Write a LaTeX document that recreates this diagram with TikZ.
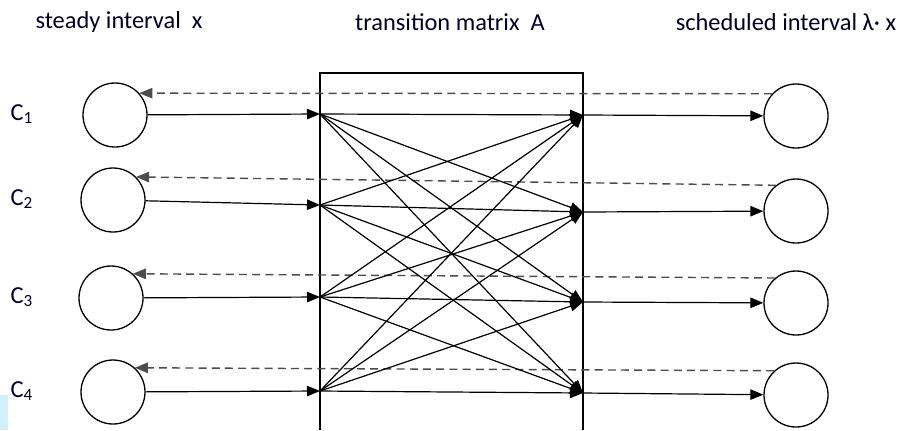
\documentclass[tikz,border=0pt]{standalone}
\usepackage{fontspec}
\setmainfont{Carlito}
\usetikzlibrary{arrows.meta,positioning,calc}

\begin{document}
\begin{tikzpicture}[
        x=0.5pt, y=-0.5pt,
        state/.style={circle, draw, line width=0.65pt, minimum size=32pt, inner sep=0pt},
        arrow/.style={-{Triangle[length=6.5pt,width=5.2pt]}, line width=0.6pt},
        back/.style={-{Triangle[length=6.5pt,width=5.2pt]}, line width=0.7pt, dash pattern=on 4pt off 2.6pt, draw=black!70},
        title/.style={font=\fontsize{12.2}{14}\selectfont, text=black!85!blue},
        tag/.style={font=\fontsize{12.2}{14}\selectfont, text=black!85!blue}
    ]
        \useasboundingbox (0,0) rectangle (898,430);
        % stray patch at the lower left
        \fill[cyan!18] (0,395) rectangle (8,430);

        % titles
        \node[title] (tx) at (119,22) {steady interval\ \ x};
        \node[title] (ta) at (450,22) {transition matrix\ \ A};
        \node[title] (tl) at (786,22) {scheduled interval λ· x};

        % transition matrix box (open at the bottom)
        \draw[line width=0.7pt] (320,430) -- (320,73) -- (583,73) -- (583,430);

        % rows: left circle, right circle, box entry and exit
        \foreach \i/\lx/\ly/\rx/\ry/\ay/\by in {1/115/115/796/116/114/115,
                                            2/113/200/796/211/205/212,
                                            3/111/298/796/303/297/302,
                                            4/113/392/796/395/391/393} {
            \node[state] (l\i) at (\lx,\ly) {};
            \node[state] (r\i) at (\rx,\ry) {};
            \node[tag] (c\i) at (22,\ly-1) {C\textsubscript{\i}};
            \coordinate (a\i) at (320,\ay);
            \coordinate (b\i) at (583,\by);
        }

        % feedback (dashed)
        \draw[back] (r1.137) -- (l1.42);
        \draw[back] (r2.128) -- (l2.45);
        \draw[back] (r3.130) -- (l3.48);
        \draw[back] (r4.132) -- (l4.48);

        % inputs and outputs
        \foreach \i in {1,...,4} {
            \draw[arrow] (l\i) -- (a\i);
            \draw[arrow] (b\i) -- (r\i);
        }

        % all transitions
        \foreach \i in {1,...,4}
            \foreach \j in {1,...,4}
                \draw[arrow] (a\i) -- (b\j);
    \end{tikzpicture}
\end{document}
